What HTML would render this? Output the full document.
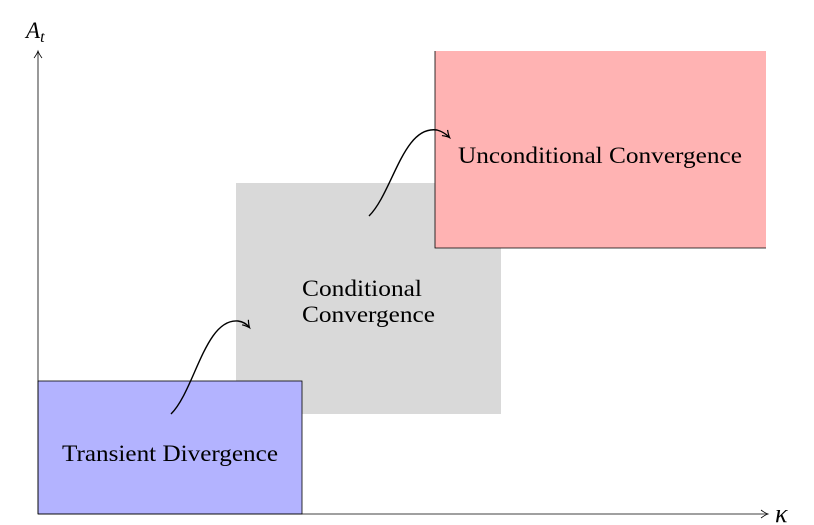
<!DOCTYPE html>
<html><head><style>body{margin:0;background:#fff}svg{display:block}text{font-family:"Liberation Serif","DejaVu Serif",serif;fill:#000}</style></head>
<body>
<svg width="814" height="525" viewBox="0 0 814 525" xmlns="http://www.w3.org/2000/svg">
<defs><marker id="a" markerWidth="10" markerHeight="10" refX="7" refY="5" orient="auto" markerUnits="userSpaceOnUse"><path d="M1,1 Q5,4 8,5 Q5,6 1,9" fill="none" stroke="#000" stroke-width="1.2"/></marker>
<marker id="b" markerWidth="10" markerHeight="10" refX="7" refY="5" orient="auto" markerUnits="userSpaceOnUse"><path d="M1,1 Q5,4 8,5 Q5,6 1,9" fill="none" stroke="#000" stroke-width="0.8"/></marker></defs>
<rect x="236" y="183" width="265" height="231" fill="#d9d9d9"/>
<rect x="435" y="51" width="331" height="197" fill="#ffb3b3"/>
<path d="M435,51 V248 H766" fill="none" stroke="#000" stroke-width="0.8"/>
<rect x="38" y="381" width="264" height="133" fill="#b3b3ff" stroke="#000" stroke-width="0.8"/>
<path d="M38,514 V52" stroke="#000" stroke-width="0.8" marker-end="url(#b)"/>
<path d="M38,514 H767" stroke="#000" stroke-width="0.8" marker-end="url(#b)"/>
<text x="26" y="38" font-size="23" font-style="italic">A<tspan font-size="16" dy="4">t</tspan></text>
<text x="775" y="522" font-size="26" font-style="italic">κ</text>
<path d="M171,414 C195,390 205,318 238,321 Q245,322 249,327" fill="none" stroke="#000" stroke-width="1.4" marker-end="url(#a)"/>
<path d="M369,216 C393,192 403,125 437,130 Q444,132 449,137" fill="none" stroke="#000" stroke-width="1.4" marker-end="url(#a)"/>
<text x="458" y="163" font-size="23" textLength="284" lengthAdjust="spacingAndGlyphs">Unconditional Convergence</text>
<text x="302" y="296" font-size="23" textLength="120" lengthAdjust="spacingAndGlyphs">Conditional</text>
<text x="302" y="322" font-size="23" textLength="133" lengthAdjust="spacingAndGlyphs">Convergence</text>
<text x="62" y="461" font-size="23" textLength="216" lengthAdjust="spacingAndGlyphs">Transient Divergence</text>
</svg>
</body></html>
